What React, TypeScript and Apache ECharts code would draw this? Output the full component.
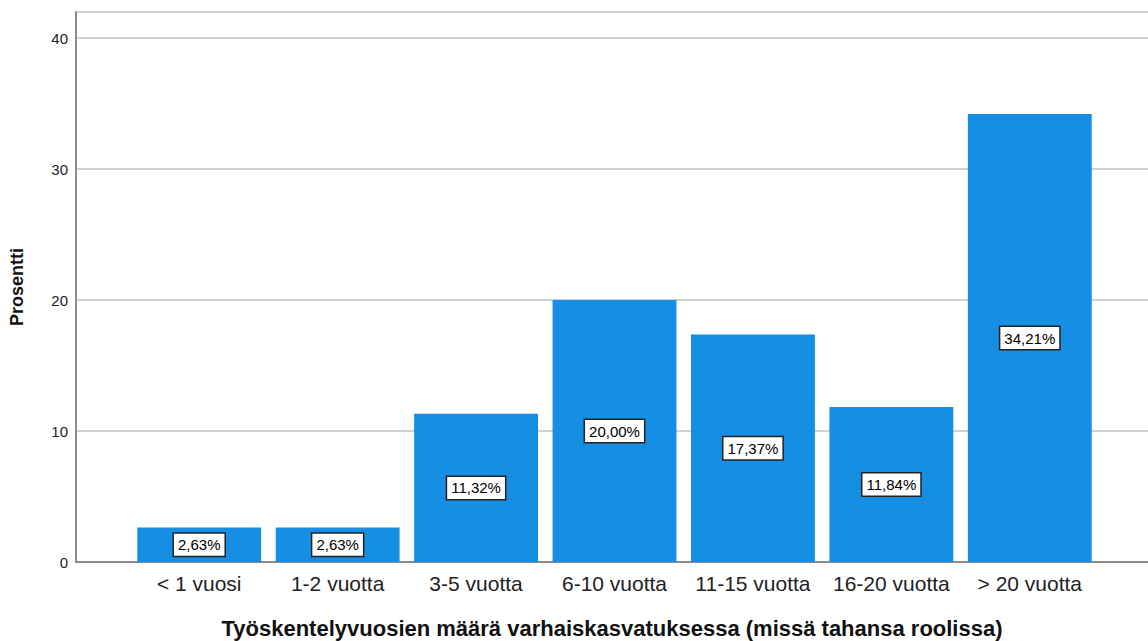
import React, { useEffect, useRef } from "react";
import * as echarts from "echarts";

const categories = ["< 1 vuosi", "1-2 vuotta", "3-5 vuotta", "6-10 vuotta", "11-15 vuotta", "16-20 vuotta", "> 20 vuotta"];
const percentages = [2.63, 2.63, 11.32, 20.0, 17.37, 11.84, 34.21];
const yTicks = [0, 10, 20, 30, 40];
const xTitle = "Työskentelyvuosien määrä varhaiskasvatuksessa (missä tahansa roolissa)";
const yTitle = "Prosentti";

export default function App() {
  const ref = useRef<HTMLDivElement>(null);
  useEffect(() => {
    document.body.style.margin = "0";
    const chart = echarts.init(ref.current!, null, { renderer: "svg" });
    const top = 12;
    const bottom = 79;
    chart.setOption({
      animation: false,
      backgroundColor: "#ffffff",
      textStyle: { fontFamily: "Arial, 'Liberation Sans', sans-serif" },
      grid: [
        { left: 76, right: 0, top, bottom, outerBoundsMode: "none", containLabel: false },
        { left: 130, right: 49, top, bottom, outerBoundsMode: "none", containLabel: false },
      ],
      xAxis: [
        {
          type: "category",
          gridIndex: 0,
          data: [""],
          axisLine: { show: true, lineStyle: { color: "#8c8c8c", width: 2 } },
          axisTick: { show: false },
          axisLabel: { show: false },
          name: xTitle,
          nameLocation: "middle",
          nameGap: 55,
          nameTextStyle: { fontSize: 22, fontWeight: "bold", color: "#111" },
        },
        {
          type: "category",
          gridIndex: 1,
          data: categories,
          axisLine: { show: false },
          axisTick: { show: false },
          axisLabel: { fontSize: 21, color: "#222", margin: 11, interval: 0 },
        },
      ],
      yAxis: [
        {
          type: "value",
          gridIndex: 0,
          min: 0,
          max: 42,
          interval: 10,
          axisLine: { show: true, lineStyle: { color: "#8c8c8c", width: 2 } },
          axisTick: { show: false },
          axisLabel: {
            fontSize: 15,
            color: "#222",
            margin: 8,
            formatter: (v: number) => (yTicks.includes(v) ? String(v) : ""),
          },
          splitLine: { show: true, lineStyle: { color: "#d2d2d2", width: 2 } },
          name: yTitle,
          nameLocation: "middle",
          nameRotate: 90,
          nameGap: 50,
          nameTextStyle: { fontSize: 18, fontWeight: "bold", color: "#111" },
        },
        {
          type: "value",
          gridIndex: 1,
          min: 0,
          max: 42,
          interval: 10,
          show: false,
          splitLine: { show: false },
        },
      ],
      series: [
        {
          type: "bar",
          xAxisIndex: 1,
          yAxisIndex: 1,
          data: percentages,
          barCategoryGap: "10.5%",
          itemStyle: { color: "#168ee3" },
          label: {
            show: true,
            position: "inside",
            formatter: (p: any) => p.value.toFixed(2).replace(".", ",") + "%",
            fontSize: 15,
            color: "#000",
            backgroundColor: "#ffffff",
            borderColor: "#222",
            borderWidth: 1.5,
            padding: [4, 4, 3, 4],
          },
        },
      ],
    });
    return () => chart.dispose();
  }, []);
  return <div ref={ref} style={{ width: 1148, height: 641 }} />;
}
